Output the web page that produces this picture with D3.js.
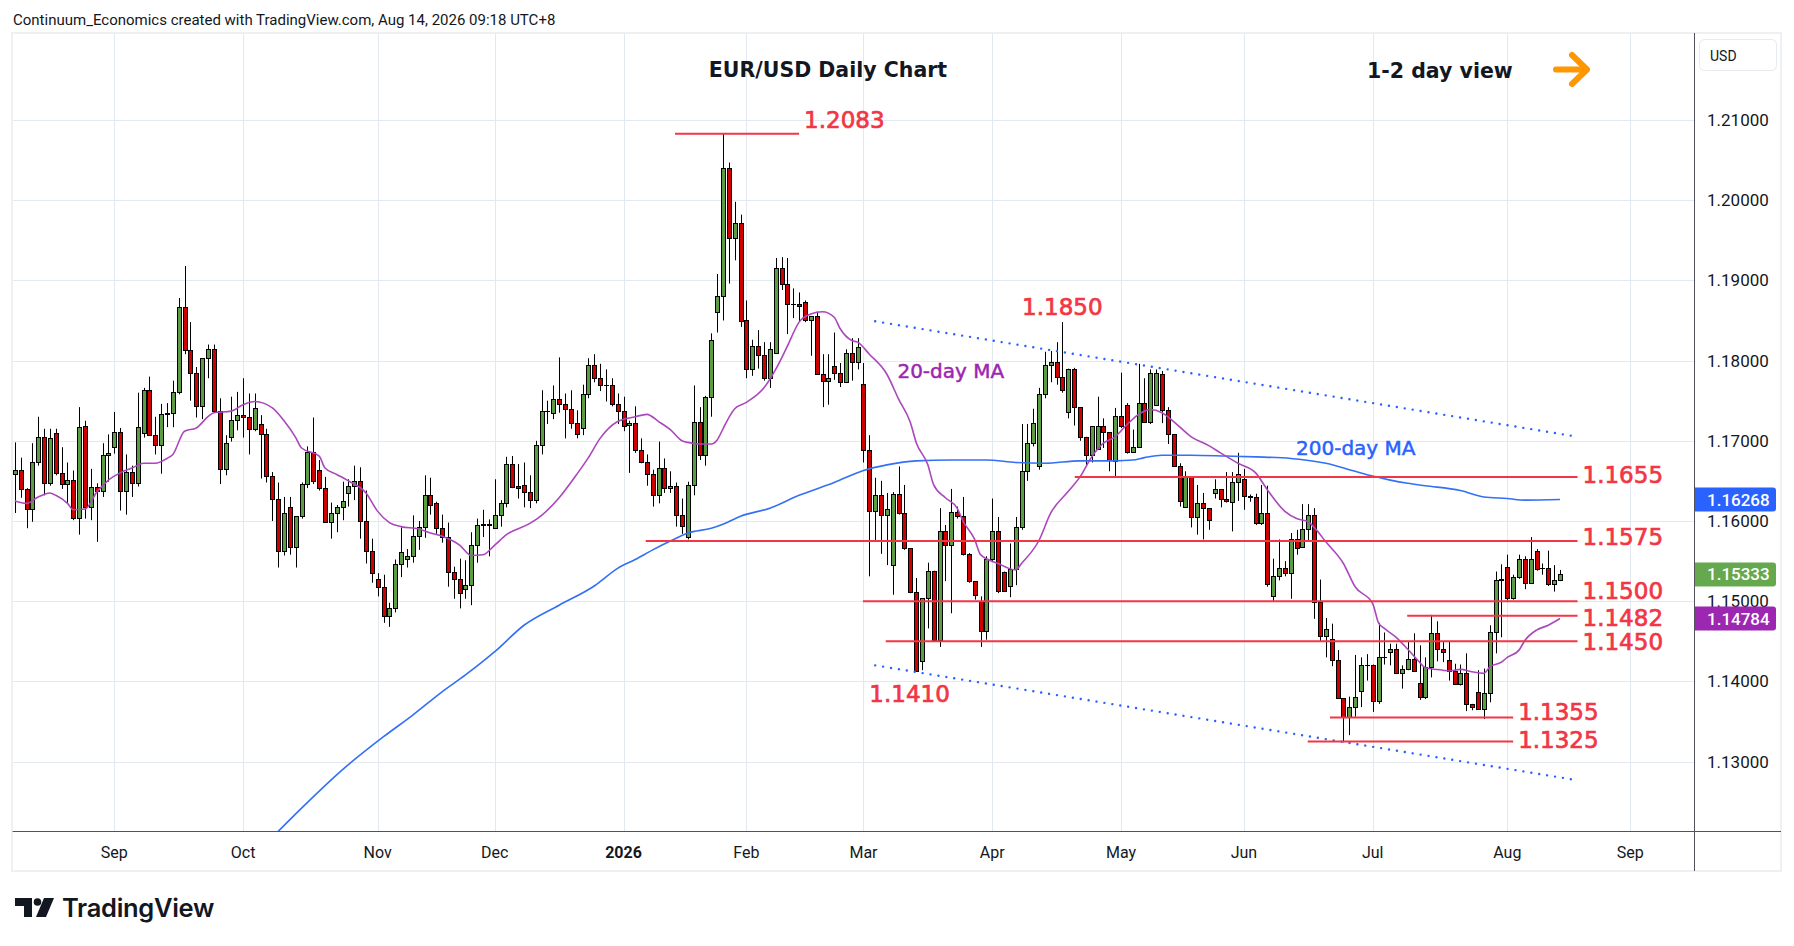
<!DOCTYPE html>
<html><head><meta charset="utf-8">
<script src="https://cdn.jsdelivr.net/npm/d3@7/dist/d3.min.js"></script>
<style>html,body{margin:0;padding:0;background:#fff;}svg{display:block;}</style>
</head><body>
<svg id="chart" width="1794" height="946"></svg>
<script>
// ---------------- DATA (bar index 1 = 7 Aug 2025 ... 265 = 14 Aug 2026) ----------------
const opens = [
1.1658,1.1663,1.1640,1.1615,1.1673,1.1705,1.1647,1.1710,1.1660,1.1646,
1.1651,1.1604,1.1718,1.1617,1.1642,1.1637,1.1682,1.1692,1.1711,1.1637,
1.1661,1.1648,1.1710,1.1763,1.1707,1.1695,1.1734,1.1735,1.1761,1.1867,
1.1813,1.1785,1.1743,1.1803,1.1815,1.1737,1.1665,1.1705,1.1726,1.1732,
1.1730,1.1715,1.1721,1.1708,1.1656,1.1628,1.1563,1.1618,1.1568,1.1606,
1.1646,1.1686,1.1664,1.1641,1.1599,1.1610,1.1618,1.1635,1.1644,1.1650,
1.1600,1.1563,1.1528,1.1518,1.1482,1.1492,1.1546,1.1553,1.1556,1.1581,
1.1593,1.1633,1.1623,1.1591,1.1580,1.1536,1.1528,1.1515,1.1520,1.1570,
1.1595,1.1596,1.1591,1.1608,1.1622,1.1671,1.1644,1.1645,1.1636,1.1626,
1.1695,1.1737,1.1735,1.1752,1.1746,1.1740,1.1722,1.1716,1.1758,1.1795,
1.1778,1.1770,1.1770,1.1746,1.1737,1.1720,1.1722,1.1689,1.1674,1.1659,
1.1633,1.1666,1.1641,1.1644,1.1607,1.1580,1.1645,1.1723,1.1682,1.1755,
1.1861,1.1881,1.2040,1.1953,1.1971,1.1851,1.1790,1.1818,1.1807,1.1778,
1.1810,1.1915,1.1895,1.1871,1.1870,1.1873,1.1851,1.1855,1.1783,1.1774,
1.1793,1.1785,1.1773,1.1810,1.1798,1.1771,1.1688,1.1612,1.1633,1.1608,
1.1545,1.1634,1.1610,1.1566,1.1511,1.1426,1.1504,1.1538,1.1451,1.1588,
1.1570,1.1611,1.1606,1.1559,1.1525,1.1500,1.1463,1.1552,1.1588,1.1537,
1.1519,1.1540,1.1592,1.1662,1.1697,1.1669,1.1758,1.1795,1.1798,1.1780,
1.1736,1.1789,1.1742,1.1705,1.1682,1.1690,1.1719,1.1711,1.1675,1.1731,
1.1745,1.1686,1.1692,1.1747,1.1723,1.1745,1.1783,1.1738,1.1708,1.1668,
1.1617,1.1656,1.1605,1.1623,1.1616,1.1635,1.1640,1.1627,1.1624,1.1649,
1.1652,1.1631,1.1630,1.1597,1.1610,1.1507,1.1532,1.1542,1.1535,1.1578,
1.1568,1.1590,1.1607,1.1499,1.1457,1.1453,1.1427,1.1379,1.1355,1.1368,
1.1388,1.1421,1.1421,1.1375,1.1431,1.1437,1.1441,1.1411,1.1415,1.1428,
1.1398,1.1380,1.1418,1.1460,1.1441,1.1427,1.1413,1.1397,1.1410,1.1372,
1.1387,1.1366,1.1385,1.1462,1.1527,1.1543,1.1504,1.1530,1.1552,1.1523,
1.1563,1.1541,1.1541,1.1521,1.1527];
const highs = [
1.1698,1.1679,1.1641,1.1697,1.1730,1.1715,1.1715,1.1715,1.1692,1.1673,
1.1663,1.1742,1.1725,1.1665,1.1647,1.1697,1.1708,1.1736,1.1716,1.1683,
1.1669,1.1760,1.1766,1.1780,1.1730,1.1746,1.1747,1.1775,1.1878,1.1918,
1.1848,1.1792,1.1803,1.1820,1.1820,1.1753,1.1707,1.1755,1.1761,1.1778,
1.1759,1.1759,1.1732,1.1715,1.1661,1.1648,1.1630,1.1630,1.1606,1.1648,
1.1693,1.1729,1.1676,1.1655,1.1623,1.1620,1.1649,1.1652,1.1669,1.1667,
1.1638,1.1578,1.1535,1.1533,1.1498,1.1552,1.1592,1.1565,1.1607,1.1600,
1.1657,1.1654,1.1624,1.1608,1.1598,1.1543,1.1553,1.1551,1.1586,1.1603,
1.1614,1.1602,1.1652,1.1626,1.1680,1.1681,1.1671,1.1673,1.1657,1.1700,
1.1763,1.1750,1.1769,1.1804,1.1759,1.1763,1.1738,1.1770,1.1803,1.1808,
1.1796,1.1789,1.1778,1.1759,1.1755,1.1725,1.1743,1.1703,1.1683,1.1664,
1.1699,1.1678,1.1662,1.1648,1.1628,1.1649,1.1769,1.1742,1.1756,1.1834,
1.1908,1.2083,1.2047,1.1998,1.1982,1.1875,1.1826,1.1838,1.1823,1.1823,
1.1928,1.1929,1.1928,1.1890,1.1885,1.1875,1.1855,1.1861,1.1808,1.1808,
1.1835,1.1797,1.1814,1.1828,1.1828,1.1797,1.1707,1.1654,1.1650,1.1635,
1.1636,1.1668,1.1645,1.1566,1.1529,1.1504,1.1548,1.1538,1.1616,1.1595,
1.1640,1.1618,1.1630,1.1560,1.1525,1.1506,1.1556,1.1628,1.1605,1.1537,
1.1572,1.1605,1.1721,1.1721,1.1740,1.1766,1.1811,1.1812,1.1823,1.1848,
1.1790,1.1791,1.1742,1.1705,1.1718,1.1755,1.1728,1.1711,1.1741,1.1785,
1.1747,1.1714,1.1796,1.1778,1.1789,1.1789,1.1787,1.1742,1.1708,1.1672,
1.1662,1.1656,1.1645,1.1635,1.1616,1.1652,1.1640,1.1661,1.1661,1.1685,
1.1665,1.1633,1.1634,1.1645,1.1644,1.1553,1.1577,1.1550,1.1585,1.1589,
1.1621,1.1621,1.1616,1.1527,1.1479,1.1472,1.1439,1.1379,1.1381,1.1433,
1.1430,1.1434,1.1421,1.1473,1.1461,1.1447,1.1447,1.1420,1.1449,1.1460,
1.1445,1.1430,1.1483,1.1475,1.1449,1.1450,1.1422,1.1421,1.1435,1.1372,
1.1414,1.1416,1.1470,1.1537,1.1546,1.1558,1.1533,1.1558,1.1556,1.1580,
1.1565,1.1547,1.1563,1.1545,1.1539];
const lows = [
1.1610,1.1629,1.1591,1.1599,1.1669,1.1632,1.1644,1.1657,1.1640,1.1622,
1.1601,1.1583,1.1603,1.1601,1.1574,1.1630,1.1649,1.1684,1.1613,1.1608,
1.1630,1.1643,1.1704,1.1707,1.1683,1.1659,1.1717,1.1717,1.1758,1.1808,
1.1750,1.1729,1.1727,1.1778,1.1737,1.1646,1.1657,1.1699,1.1713,1.1704,
1.1683,1.1712,1.1653,1.1648,1.1600,1.1542,1.1557,1.1558,1.1542,1.1603,
1.1641,1.1646,1.1638,1.1599,1.1578,1.1586,1.1601,1.1618,1.1626,1.1578,
1.1547,1.1523,1.1506,1.1473,1.1468,1.1486,1.1530,1.1542,1.1548,1.1564,
1.1579,1.1608,1.1584,1.1573,1.1518,1.1503,1.1491,1.1503,1.1495,1.1548,
1.1580,1.1556,1.1590,1.1593,1.1617,1.1641,1.1628,1.1617,1.1616,1.1622,
1.1683,1.1721,1.1727,1.1735,1.1703,1.1715,1.1703,1.1707,1.1753,1.1773,
1.1762,1.1749,1.1743,1.1721,1.1712,1.1660,1.1685,1.1672,1.1644,1.1618,
1.1622,1.1635,1.1635,1.1593,1.1584,1.1577,1.1632,1.1676,1.1669,1.1730,
1.1835,1.1850,1.1896,1.1925,1.1842,1.1778,1.1781,1.1790,1.1775,1.1766,
1.1810,1.1888,1.1833,1.1853,1.1848,1.1848,1.1806,1.1783,1.1742,1.1745,
1.1776,1.1767,1.1773,1.1775,1.1789,1.1673,1.1531,1.1575,1.1559,1.1545,
1.1508,1.1608,1.1564,1.1510,1.1412,1.1414,1.1466,1.1450,1.1443,1.1525,
1.1485,1.1603,1.1557,1.1523,1.1502,1.1443,1.1452,1.1549,1.1510,1.1512,
1.1505,1.1520,1.1589,1.1650,1.1693,1.1664,1.1753,1.1773,1.1770,1.1760,
1.1728,1.1719,1.1700,1.1670,1.1673,1.1690,1.1691,1.1662,1.1656,1.1716,
1.1684,1.1685,1.1692,1.1723,1.1721,1.1745,1.1722,1.1696,1.1668,1.1618,
1.1617,1.1592,1.1583,1.1577,1.1589,1.1628,1.1617,1.1623,1.1587,1.1625,
1.1614,1.1624,1.1595,1.1595,1.1518,1.1499,1.1526,1.1531,1.1503,1.1558,
1.1568,1.1576,1.1478,1.1450,1.1430,1.1419,1.1379,1.1324,1.1333,1.1356,
1.1368,1.1401,1.1362,1.1372,1.1421,1.1420,1.1410,1.1391,1.1414,1.1412,
1.1377,1.1378,1.1405,1.1425,1.1424,1.1401,1.1396,1.1395,1.1363,1.1364,
1.1366,1.1353,1.1374,1.1435,1.1455,1.1501,1.1502,1.1528,1.1515,1.1522,
1.1538,1.1533,1.1519,1.1512,1.1525];
const closes = [
1.1663,1.1640,1.1615,1.1673,1.1705,1.1647,1.1703,1.1660,1.1646,1.1651,
1.1604,1.1717,1.1617,1.1642,1.1637,1.1682,1.1685,1.1711,1.1637,1.1661,
1.1648,1.1717,1.1763,1.1707,1.1695,1.1733,1.1735,1.1761,1.1867,1.1813,
1.1785,1.1743,1.1803,1.1815,1.1737,1.1665,1.1697,1.1726,1.1732,1.1730,
1.1715,1.1741,1.1708,1.1656,1.1628,1.1563,1.1610,1.1568,1.1606,1.1646,
1.1686,1.1650,1.1641,1.1599,1.1610,1.1618,1.1625,1.1644,1.1650,1.1600,
1.1563,1.1535,1.1518,1.1482,1.1492,1.1546,1.1561,1.1556,1.1581,1.1593,
1.1633,1.1620,1.1591,1.1580,1.1536,1.1528,1.1510,1.1520,1.1570,1.1595,
1.1596,1.1595,1.1608,1.1622,1.1671,1.1643,1.1641,1.1636,1.1626,1.1695,
1.1737,1.1737,1.1752,1.1746,1.1740,1.1722,1.1708,1.1758,1.1795,1.1778,
1.1769,1.1770,1.1746,1.1737,1.1718,1.1722,1.1689,1.1674,1.1659,1.1632,
1.1666,1.1641,1.1644,1.1607,1.1594,1.1645,1.1723,1.1682,1.1755,1.1826,
1.1881,1.2040,1.1953,1.1971,1.1849,1.1790,1.1818,1.1807,1.1778,1.1814,
1.1915,1.1895,1.1871,1.1871,1.1868,1.1851,1.1855,1.1783,1.1774,1.1778,
1.1785,1.1773,1.1810,1.1798,1.1817,1.1688,1.1612,1.1633,1.1608,1.1615,
1.1634,1.1610,1.1566,1.1511,1.1413,1.1504,1.1538,1.1451,1.1588,1.1570,
1.1611,1.1606,1.1559,1.1525,1.1508,1.1463,1.1552,1.1588,1.1513,1.1513,
1.1540,1.1592,1.1662,1.1697,1.1722,1.1758,1.1795,1.1798,1.1780,1.1763,
1.1789,1.1742,1.1705,1.1682,1.1718,1.1719,1.1711,1.1676,1.1731,1.1719,
1.1686,1.1692,1.1747,1.1723,1.1785,1.1785,1.1738,1.1708,1.1668,1.1625,
1.1656,1.1605,1.1623,1.1616,1.1601,1.1640,1.1627,1.1625,1.1649,1.1658,
1.1631,1.1630,1.1597,1.1610,1.1521,1.1532,1.1542,1.1535,1.1578,1.1566,
1.1590,1.1607,1.1499,1.1457,1.1465,1.1427,1.1379,1.1355,1.1368,1.1380,
1.1421,1.1421,1.1375,1.1430,1.1431,1.1441,1.1411,1.1415,1.1428,1.1413,
1.1380,1.1418,1.1460,1.1441,1.1437,1.1413,1.1397,1.1410,1.1372,1.1368,
1.1366,1.1385,1.1462,1.1526,1.1528,1.1504,1.1530,1.1552,1.1523,1.1553,
1.1540,1.1541,1.1521,1.1527,1.15333];

// 20-day MA: [bar index, value]
const ma20 = [[1,1.1625],[3,1.1622],[5,1.1630],[7,1.1635],[8,1.1632],[10,1.1622],[11,1.1614],[13,1.1615],[15,1.1636],[17,1.1651],[19,1.1660],[21,1.1666],[23,1.1672],[25,1.1672],[27,1.1678],[28,1.1683],[30,1.1712],[32,1.1716],[34,1.1730],[35,1.1735],[38,1.1737],[40,1.1745],[42,1.1749],[45,1.1741],[47,1.1725],[49,1.1704],[50,1.1691],[53,1.1681],[54,1.1666],[56,1.1658],[58,1.1650],[61,1.1635],[63,1.1612],[65,1.1598],[67,1.1593],[70,1.1590],[72,1.1585],[74,1.1581],[77,1.1570],[79,1.1557],[81,1.1558],[83,1.1570],[85,1.1583],[89,1.1597],[91,1.1607],[94,1.1629],[97,1.1658],[99,1.1679],[101,1.1703],[104,1.1724],[107,1.1730],[109,1.1733],[111,1.1724],[113,1.1714],[115,1.1700],[116,1.1698],[118,1.1696],[120,1.1696],[121,1.1701],[122,1.1715],[123,1.1729],[124,1.1740],[126,1.1748],[129,1.1766],[131,1.1789],[133,1.1818],[135,1.1848],[137,1.1858],[139,1.1861],[141,1.1854],[142,1.1840],[144,1.1825],[145,1.1823],[147,1.1808],[150,1.1783],[152,1.1752],[154,1.1723],[155,1.1698],[157,1.1670],[158,1.1645],[160,1.1629],[162,1.1616],[163,1.1600],[165,1.1577],[166,1.1558],[169,1.1547],[172,1.1539],[173,1.1547],[176,1.1576],[178,1.1610],[181,1.1637],[183,1.1655],[185,1.1680],[187,1.1697],[189,1.1705],[191,1.1720],[193,1.1733],[195,1.1739],[197,1.1735],[199,1.1724],[202,1.1705],[205,1.1694],[207,1.1685],[210,1.1672],[213,1.1660],[215,1.1639],[218,1.1612],[220,1.1603],[222,1.1599],[223,1.1592],[225,1.1574],[228,1.1547],[230,1.1518],[233,1.1497],[234,1.1473],[235,1.1466],[237,1.1455],[239,1.1440],[241,1.1424],[242,1.1417],[245,1.1414],[246,1.1413],[248,1.1415],[250,1.1412],[252,1.1410],[253,1.1418],[255,1.1424],[256,1.1430],[258,1.1439],[259,1.1451],[261,1.1464],[263,1.1470],[265,1.14784]];
// 200-day MA
const ma200 = [[46,1.1213],[50,1.1242],[57,1.1290],[64,1.1331],[69,1.1358],[74,1.1387],[78,1.1408],[83,1.1437],[88,1.1470],[94,1.1495],[100,1.1519],[104,1.1541],[107,1.1552],[110,1.1564],[113,1.1575],[116,1.1585],[120,1.1591],[122,1.1596],[125,1.1606],[130,1.1616],[135,1.1632],[141,1.1648],[146,1.1663],[150,1.1670],[155,1.1675],[161,1.1676],[167,1.1676],[172,1.1673],[177,1.1672],[183,1.1675],[189,1.1675],[192,1.1676],[194,1.1679],[197,1.1682],[202,1.1682],[208,1.1681],[213,1.1680],[219,1.1678],[225,1.1672],[230,1.1662],[233,1.1656],[236,1.1651],[239,1.1647],[242,1.1644],[248,1.1638],[252,1.1630],[256,1.1628],[259,1.1626],[265,1.16268]];

// time axis
const monthLabels = ["Sep","Oct","Nov","Dec","2026","Feb","Mar","Apr","May","Jun","Jul","Aug","Sep"];
const monthIdx    = [18,40,63,83,105,126,146,168,190,211,233,256,277];
// price axis
const priceTicks = [1.13,1.14,1.15,1.16,1.17,1.18,1.19,1.20,1.21];

// horizontal levels: price, from bar, to bar
const levelPrices = [1.2083,1.1655,1.1575,1.1500,1.1482,1.1450,1.1355,1.1325];
const levelFrom   = [113.8,182.1,108.8,145.9,238.9,149.8,225.7,221.9];
const levelTo     = [135,268,268,268,268,268,257,257];
// channel lines: [bar, price]
const channelUpper = [[148,1.1849],[267.2,1.1706]];
const channelLower = [[148,1.1420],[266.9,1.1278]];
// extra text annotations: text, bar, price
const noteTexts  = ["1.1850","1.1410"];
const noteBars   = [173.1,147.0];
const notePrices = [1.18668,1.13837];

// ---------------- DRAWING ----------------
const svg = d3.select("#chart");
const L = 12.6, R = 1694, T = 33, B = 831;
const x = d3.scaleLinear().domain([18,256]).range([114.3,1507.3]);
const y = d3.scaleLinear().domain([1.13,1.21]).range([761.6,120]);
const fmt5 = d3.format(".5f");

svg.append("rect").attr("width",1794).attr("height",946).attr("fill","#fff");
svg.append("rect").attr("x",12).attr("y",33).attr("width",1769).attr("height",838)
  .attr("fill","none").attr("stroke","#eef0f3").attr("stroke-width",2);

svg.append("defs").append("clipPath").attr("id","plot")
  .append("rect").attr("x",L).attr("y",T).attr("width",R-L).attr("height",B-T);

// grid
const grid = svg.append("g").attr("clip-path","url(#plot)");
grid.selectAll("line.h").data(priceTicks).join("line")
  .attr("x1",L).attr("x2",R).attr("y1",d=>Math.round(y(d))+0.5).attr("y2",d=>Math.round(y(d))+0.5)
  .attr("stroke","#e2e9f0").attr("stroke-width",1);
grid.selectAll("line.v").data(monthIdx).join("line")
  .attr("y1",T).attr("y2",B).attr("x1",d=>Math.round(x(d))+0.5).attr("x2",d=>Math.round(x(d))+0.5)
  .attr("stroke","#e2e9f0").attr("stroke-width",1);

const plot = svg.append("g").attr("clip-path","url(#plot)");

// candles
const bars = d3.range(opens.length).map(i=>({n:i+1,o:opens[i],h:highs[i],l:lows[i],c:closes[i]}));
const cg = plot.append("g");
bars.forEach(d=>{
  const cx = Math.round(x(d.n));
  cg.append("line").attr("x1",cx+0.5).attr("x2",cx+0.5)
    .attr("y1",y(d.h)).attr("y2",y(d.l)).attr("stroke","#000").attr("stroke-width",1);
  const top = Math.round(y(Math.max(d.o,d.c)));
  const bot = Math.round(y(Math.min(d.o,d.c)));
  const up = d.c >= d.o;
  cg.append("rect").attr("x",cx-1.5).attr("y",top+0.5)
    .attr("width",4).attr("height",Math.max(0.01,bot-top))
    .attr("fill",up?"#5c9c45":"#cf0000").attr("stroke","#000").attr("stroke-width",1);
});

// moving averages
const line = d3.line().x(d=>x(d[0])).y(d=>y(d[1])).curve(d3.curveMonotoneX);
plot.append("path").attr("d",line(ma200)).attr("fill","none").attr("stroke","#3370f5").attr("stroke-width",1.6);
plot.append("path").attr("d",line(ma20)).attr("fill","none").attr("stroke","#ab47bc").attr("stroke-width",1.6);

// channel (dotted)
const sline = d3.line().x(d=>x(d[0])).y(d=>y(d[1]));
[channelUpper,channelLower].forEach(c=>{
  plot.append("path").attr("d",sline(c)).attr("fill","none").attr("stroke","#2962ff")
    .attr("stroke-width",2.4).attr("stroke-linecap","round").attr("stroke-dasharray","0.01 8");
});

// levels
const labelDy = [-14,-2,-4,-10,2,1,-5,-2];
function redText(sel){
  return sel.attr("dominant-baseline","central").attr("fill","#f23645")
    .attr("stroke","#f23645").attr("stroke-width",0.7)
    .attr("font-family","DejaVu Sans").attr("font-size",23);
}
levelPrices.forEach((p,i)=>{
  const yy = y(p);
  plot.append("line").attr("x1",x(levelFrom[i])).attr("x2",x(levelTo[i]))
    .attr("y1",yy).attr("y2",yy).attr("stroke","#f23645").attr("stroke-width",2);
  redText(plot.append("text").attr("x",x(levelTo[i])+5).attr("y",yy+labelDy[i])).text(p.toFixed(4));
});
noteTexts.forEach((t,i)=>{
  redText(plot.append("text").attr("x",x(noteBars[i])).attr("y",y(notePrices[i]))).text(t);
});
// MA labels
plot.append("text").attr("x",x(151.8)).attr("y",y(1.1787)).attr("dominant-baseline","central")
  .attr("fill","#9c27b0").attr("stroke","#9c27b0").attr("stroke-width",0.5)
  .attr("font-family","DejaVu Sans").attr("font-size",20).text("20-day MA");
plot.append("text").attr("x",x(219.9)).attr("y",y(1.1691)).attr("dominant-baseline","central")
  .attr("fill","#2962ff").attr("stroke","#2962ff").attr("stroke-width",0.5)
  .attr("font-family","DejaVu Sans").attr("font-size",20).text("200-day MA");

// title & view
svg.append("text").attr("x",828).attr("y",70).attr("text-anchor","middle").attr("dominant-baseline","central")
  .attr("font-family","DejaVu Sans").attr("font-weight","bold").attr("font-size",20.5).attr("fill","#131722")
  .text("EUR/USD Daily Chart");
svg.append("text").attr("x",1367).attr("y",71).attr("dominant-baseline","central")
  .attr("font-family","DejaVu Sans").attr("font-weight","bold").attr("font-size",20.5).attr("fill","#131722")
  .text("1-2 day view");
svg.append("path").attr("d","M1556,69.5 H1587 M1572,55 L1587,69.5 L1572,84")
  .attr("fill","none").attr("stroke","#ff9800").attr("stroke-width",6)
  .attr("stroke-linecap","round").attr("stroke-linejoin","round");

// axes lines
svg.append("line").attr("x1",R+0.5).attr("x2",R+0.5).attr("y1",T).attr("y2",871).attr("stroke","#50535e").attr("stroke-width",1);
svg.append("line").attr("x1",L).attr("x2",1781).attr("y1",B+0.5).attr("y2",B+0.5).attr("stroke","#50535e").attr("stroke-width",1);

// price tick labels
svg.selectAll("text.pt").data(priceTicks).join("text")
  .attr("x",1707).attr("y",d=>y(d)).attr("dominant-baseline","central")
  .attr("font-family","Roboto").attr("font-size",17).attr("fill","#131722").text(d=>fmt5(d));

// time labels
svg.selectAll("text.tl").data(monthLabels).join("text")
  .attr("x",(d,i)=>x(monthIdx[i])).attr("y",852).attr("text-anchor","middle").attr("dominant-baseline","central")
  .attr("font-family","Roboto").attr("font-size",16).attr("font-weight",d=>d==="2026"?"bold":"normal")
  .attr("fill","#131722").text(d=>d);

// price badges
const badges = [
  {v:ma200[ma200.length-1][1], c:"#2962ff"},
  {v:closes[closes.length-1], c:"#66a84e"},
  {v:ma20[ma20.length-1][1], c:"#9c27b0"}
];
badges.forEach(b=>{
  const yy = y(b.v);
  svg.append("path").attr("d",`M${R+1},${yy-12} H1773 a3,3 0 0 1 3,3 V${yy+9} a3,3 0 0 1 -3,3 H${R+1} Z`).attr("fill",b.c);
  svg.append("text").attr("x",1707).attr("y",yy).attr("dominant-baseline","central")
    .attr("font-family","Roboto").attr("font-weight",500).attr("font-size",17).attr("fill","#fff").text(fmt5(b.v));
});

// USD box
svg.append("rect").attr("x",1699.5).attr("y",39.5).attr("width",77).attr("height",31).attr("rx",5)
  .attr("fill","#fff").attr("stroke","#e6e9ee");
svg.append("text").attr("x",1710).attr("y",55.5).attr("dominant-baseline","central")
  .attr("font-family","Roboto").attr("font-size",14).attr("fill","#131722").text("USD");

// header
svg.append("text").attr("x",13).attr("y",20).attr("dominant-baseline","central")
  .attr("font-family","Roboto").attr("font-size",15).attr("fill","#131722")
  .text("Continuum_Economics created with TradingView.com, Aug 14, 2026 09:18 UTC+8");

// TradingView logo
const lg = svg.append("g").attr("fill","#131722");
lg.append("path").attr("d","M15,898 H32 V917 H24 V906 H15 Z");
lg.append("circle").attr("cx",37.5).attr("cy",902).attr("r",3.8);
lg.append("path").attr("d","M44,898 H54 L46,917 H36 Z");
svg.append("text").attr("x",62).attr("y",916.5).attr("font-family","Inter").attr("font-weight",600)
  .attr("font-size",25.5).attr("fill","#131722").attr("letter-spacing",-0.3).text("TradingView");
</script>
</body></html>
